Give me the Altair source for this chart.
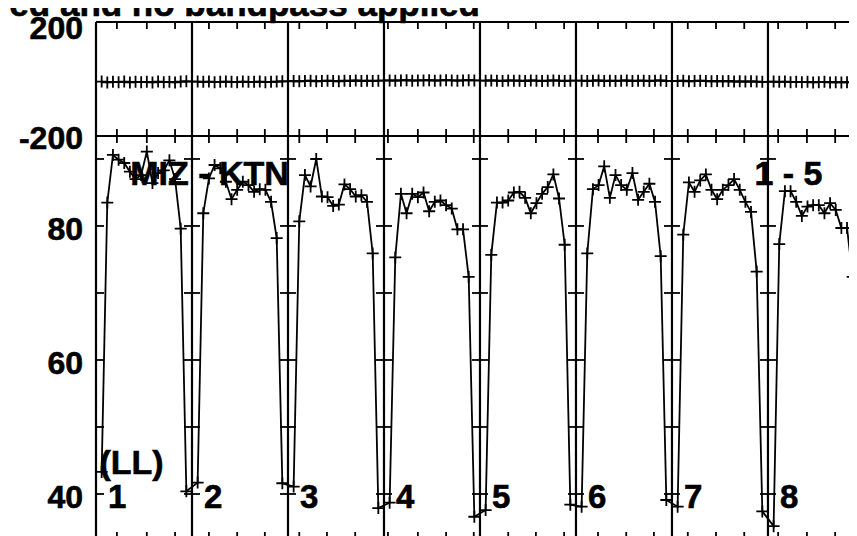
import altair as alt
import pandas as pd

# ---------------- data ----------------
IF_WIDTH = 17          # plot units per IF band (16 channels + gap)
if_numbers = [1, 2, 3, 4, 5, 6, 7, 8]
channels = list(range(1, 17))

amp_if1 = [43.3, 83.5, 90.6, 89.9, 89.4, 88.1, 87.0, 87.6, 91.1, 86.4, 87.9, 88.3, 89.8, 87.0, 79.6, 40.4]
amp_if2 = [41.7, 81.9, 87.1, 89.1, 88.6, 86.6, 84.0, 85.4, 86.6, 86.1, 85.1, 85.5, 85.4, 83.6, 78.2, 41.6]
amp_if3 = [41.1, 80.7, 87.6, 85.9, 90.0, 84.4, 84.3, 83.0, 83.2, 86.2, 85.5, 84.4, 84.6, 83.6, 75.9, 37.9]
amp_if4 = [38.7, 75.3, 84.8, 81.9, 84.8, 84.3, 85.0, 82.2, 83.6, 83.8, 83.1, 82.6, 79.5, 79.5, 72.4, 36.6]
amp_if5 = [37.6, 75.7, 83.5, 83.5, 83.8, 85.0, 85.1, 84.2, 81.9, 83.4, 84.8, 85.8, 87.7, 84.1, 77.2, 38.4]
amp_if6 = [38.1, 75.9, 85.5, 86.1, 88.9, 84.2, 87.6, 86.1, 85.4, 87.9, 83.9, 85.1, 86.3, 83.6, 75.5, 39.1]
amp_if7 = [38.1, 78.7, 86.5, 85.1, 86.8, 87.7, 85.4, 84.0, 85.4, 86.1, 87.0, 85.4, 83.6, 82.1, 73.2, 37.4]
amp_if8 = [35.2, 77.3, 85.2, 85.2, 83.6, 81.5, 82.9, 83.1, 83.1, 81.9, 83.4, 82.4, 79.7, 79.7, 72.4, 35.5]

ph_if1 = [-9, -12, -10, -11, -9, -12, -10, -11, -10, -12, -9, -11, -10, -12, -9, -8]
ph_if2 = [-9, -10, -9, -11, -10, -9, -10, -11, -9, -10, -10, -9, -11, -10, -9, -8]
ph_if3 = [-7, -8, -7, -6, -8, -7, -6, -7, -8, -6, -7, -5, -7, -6, -7, -6]
ph_if4 = [-5, -6, -5, -4, -6, -5, -5, -4, -6, -5, -4, -5, -6, -5, -4, -5]
ph_if5 = [-6, -5, -6, -7, -5, -6, -6, -7, -5, -6, -7, -6, -5, -6, -7, -6]
ph_if6 = [-6, -7, -6, -5, -7, -6, -7, -6, -5, -7, -6, -6, -7, -6, -5, -7]
ph_if7 = [-7, -6, -8, -7, -6, -7, -8, -7, -8, -7, -9, -8, -9, -8, -9, -10]
ph_if8 = [-9, -10, -9, -11, -10, -11, -10, -12, -11, -10, -12, -11, -12, -11, -12, -13]

freq_ticks = [3.7, 9.0, 14.0, 20.0, 25.0, 29.9, 36.0, 40.9, 45.9, 51.7, 57.0, 62.0, 66.9,
              73.0, 77.9, 82.9, 88.9, 93.9, 98.8, 104.8, 109.8, 114.8, 120.8, 125.9, 130.9]
divider_positions = [0, 17, 34, 51, 68, 85, 102, 119, 136]
amp_tick_values = [40, 50, 60, 70, 80, 90]
phase_labels = ["200", "-200"]
phase_label_values = [200, -200]
amp_labels = ["80", "60", "40"]
amp_label_values = [80, 60, 40]
if_labels = ["1", "2", "3", "4", "5", "6", "7", "8"]

title_text = "ied and no bandpass applied"
baseline_text = "MIZ - KTN"
pol_text = "(LL)"
time_text = "1 - 5"

# ---------------- tables ----------------
amps = [amp_if1, amp_if2, amp_if3, amp_if4, amp_if5, amp_if6, amp_if7, amp_if8]
phs = [ph_if1, ph_if2, ph_if3, ph_if4, ph_if5, ph_if6, ph_if7, ph_if8]
rows = []
for i, ifn in enumerate(if_numbers):
    for j, ch in enumerate(channels):
        rows.append({"pos": (ifn - 1) * IF_WIDTH + ch, "amp": amps[i][j], "phase": phs[i][j]})
df = pd.DataFrame(rows)

P_TOP, P_BOT = 200, -200
A_BOTTOM_EDGE = 33.28

ticks_df = pd.DataFrame({"pos": freq_ticks, "ptop": P_TOP, "pbot": P_BOT, "abot": A_BOTTOM_EDGE})
div_df = pd.DataFrame({"pos": divider_positions})
div_tick_df = pd.DataFrame([{"pos": d, "a": v} for d in divider_positions[1:] for v in amp_tick_values])
left_tick_df = pd.DataFrame([{"pos": 0, "a": v} for v in amp_tick_values])
plab_df = pd.DataFrame({"pos": 0, "v": phase_label_values, "t": phase_labels})
alab_df = pd.DataFrame({"pos": 0, "v": amp_label_values, "t": amp_labels})
iflab_df = pd.DataFrame({"pos": [d for d in divider_positions[:8]], "a": 37.9, "t": if_labels})
border_df = pd.DataFrame({"v": [P_TOP, P_BOT]})

FONT = "Liberation Sans"
PLUS = "M-1,0L1,0M0,-1L0,1"
LW = 1.8
TXT = dict(font=FONT, fontWeight="bold", color="black", stroke="black", strokeWidth=0.6)

X = alt.X("pos:Q", scale=alt.Scale(domain=[0, 133.35], nice=False, zero=False), axis=None)


def YP(f):
    return alt.Y(f, scale=alt.Scale(domain=[-200, 200], range=[114, 0], nice=False, zero=False), axis=None)


def YA(f):
    return alt.Y(f, scale=alt.Scale(domain=[33.73, 93.43], range=[514, 114], nice=False, zero=False), axis=None)


def marks(data, shape, size):
    return alt.Chart(data).mark_point(shape=shape, size=size, filled=False, color="black",
                                      strokeWidth=LW, opacity=1)


# ---------------- phase panel ----------------
p_line = alt.Chart(df).mark_line(color="black", strokeWidth=LW).encode(x=X, y=YP("phase:Q"))
p_pts = marks(df, PLUS, 144).encode(x=X, y=YP("phase:Q"))
p_border = alt.Chart(border_df).mark_rule(color="black", strokeWidth=2.2).encode(y=YP("v:Q"))
p_ticks_top = marks(ticks_df, "M0,0L0,1", 196).encode(x=X, y=YP("ptop:Q"))
p_ticks_mid = marks(ticks_df, "M0,-1L0,1", 196).encode(x=X, y=YP("pbot:Q"))
p_lab_top = alt.Chart(plab_df.iloc[[0]]).mark_text(fontSize=32, align="right", baseline="middle",
                                                  dx=-13, dy=7, **TXT).encode(
    x=X, y=YP("v:Q"), text="t:N")
p_lab_bot = alt.Chart(plab_df.iloc[[1]]).mark_text(fontSize=32, align="right", baseline="middle",
                                                  dx=-13, dy=3, **TXT).encode(
    x=X, y=YP("v:Q"), text="t:N")
title_mark = alt.Chart(pd.DataFrame({"pos": [68.0], "v": [221], "t": [title_text]})).mark_text(
    fontSize=35, align="right", baseline="alphabetic", **TXT).encode(
    x=X, y=YP("v:Q"), text="t:N")

phase_layer = alt.layer(p_border, p_ticks_top, p_ticks_mid, p_line, p_pts, p_lab_top, p_lab_bot, title_mark)

# ---------------- amplitude panel ----------------
dividers = alt.Chart(div_df).mark_rule(color="black", strokeWidth=2.2).encode(x=X)
div_ticks = marks(div_tick_df, "M-1,0L1,0", 256).encode(x=X, y=YA("a:Q"))
left_ticks = marks(left_tick_df, "M0,0L1,0", 256).encode(x=X, y=YA("a:Q"))
bot_ticks = marks(ticks_df, "M0,-1L0,0", 196).encode(x=X, y=YA("abot:Q"))
a_line = alt.Chart(df).mark_line(color="black", strokeWidth=LW).encode(x=X, y=YA("amp:Q"))
a_pts = marks(df, PLUS, 144).encode(x=X, y=YA("amp:Q"))
a_labs = alt.Chart(alab_df).mark_text(fontSize=32, align="right", baseline="middle",
                                      dx=-13, dy=4, **TXT).encode(
    x=X, y=YA("v:Q"), text="t:N")
if_labs = alt.Chart(iflab_df).mark_text(fontSize=33, align="left", baseline="alphabetic",
                                        dx=12, **TXT).encode(
    x=X, y=YA("a:Q"), text="t:N")
annot_df = pd.DataFrame({"pos": [6.07, 116.6, 0.6], "a": [86.12, 86.12, 42.95],
                         "t": [baseline_text, time_text, pol_text]})
annots = alt.Chart(annot_df).mark_text(fontSize=34, align="left", baseline="alphabetic", **TXT).encode(
    x=X, y=YA("a:Q"), text="t:N")

amp_layer = alt.layer(dividers, div_ticks, left_ticks, bot_ticks, a_line, a_pts, a_labs, if_labs, annots)

chart = alt.layer(phase_layer, amp_layer).resolve_scale(y="independent").properties(
    width=753, height=514,
    autosize=alt.AutoSizeParams(type="none"),
    padding={"left": 88, "top": 14, "right": 0, "bottom": 0},
    background="white",
).configure_view(stroke=None)

chart.save("out.html", embed_options={"renderer": "svg", "actions": False})
